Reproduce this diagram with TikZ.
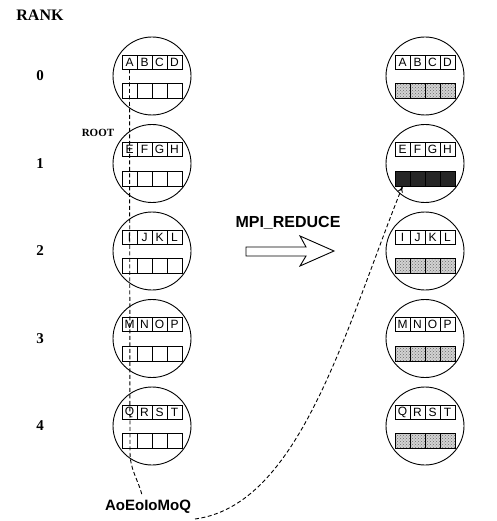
\documentclass[tikz,border=0pt]{standalone}
\usepackage{fontspec}
\setmainfont{Liberation Serif}
\newfontfamily\arialfont{Liberation Sans}
\usetikzlibrary{patterns,arrows.meta}

\begin{document}
\begin{tikzpicture}[x=1pt, y=-1pt, line width=0.9pt, >={To[length=6pt,width=5pt]},
    proc/.style={draw, circle, minimum size=78pt, inner sep=0pt},
    cell/.style={draw, minimum width=15pt, minimum height=14pt, inner sep=0pt, font=\arialfont\fontsize{12}{13}\selectfont},
    buf/.style={draw, minimum width=15pt, minimum height=15pt, inner sep=0pt},
    dots/.style={preaction={fill=gray!35}, pattern=crosshatch dots, pattern color=gray!85!black},
    dark/.style={fill=gray!30!black},
    bufstyle/.code={\ifnum#1=1 \tikzset{dark}\else\tikzset{dots}\fi},
    lbl/.style={font=\bfseries\fontsize{15}{18}\selectfont},
    flow/.style={dash pattern=on 4pt off 2.5pt}]
  \useasboundingbox (0,0) rectangle (496,521);

  % 标题
  \node[font=\bfseries\fontsize{16}{19}\selectfont] (rank) at (40,15) {RANK};

  % 各进程：左为归约前，右为归约后
  \foreach \r/\a/\b/\c/\d in {0/A/B/C/D, 1/E/F/G/H, 2/I/J/K/L, 3/M/N/O/P, 4/Q/R/S/T} {
    \pgfmathsetmacro\cy{76+87.5*\r}
    \node[lbl] (rank\r) at (40,\cy) {\r};
    \node[proc] (src\r) at (152,\cy) {};
    \node[proc] (dst\r) at (425,\cy) {};
    \foreach \t [count=\i] in {\a,\b,\c,\d} {
      \node[cell] (src\r-\i) at (152-37.5+15*\i, \cy-14) {\t};
      \node[buf] (src\r-b\i) at (152-37.5+15*\i, \cy+15) {};
      \node[cell] (dst\r-\i) at (425-37.5+15*\i, \cy-14) {\t};
      \node[buf, bufstyle=\r] (dst\r-b\i) at (425-37.5+15*\i, \cy+15) {};
    }
  }

  % 根进程
  \node[font=\bfseries\fontsize{11}{13}\selectfont] (root) at (98,133) {ROOT};

  % 操作箭头
  \node[font=\arialfont\bfseries\fontsize{16}{19}\selectfont] (op) at (288,223) {MPI\_REDUCE};
  \draw (246,247) -- (306,247) -- (300,236) -- (334,251) -- (300,266) -- (306,256) -- (246,256) -- cycle;

  % 归约结果
  \node[font=\arialfont\bfseries\fontsize{15}{18}\selectfont] (res) at (148,507) {AoEoIoMoQ};
  \coordinate (down) at (130,452);
  \coordinate (resin) at (142,495);
  \coordinate (resout) at (195,519);
  \draw[flow] (src0-1.south) -- (down) to[out=-90, in=105] (resin);
  \draw[flow, ->] (resout) .. controls (300,505) and (345,330) .. (dst1-b1.south);
\end{tikzpicture}
\end{document}
